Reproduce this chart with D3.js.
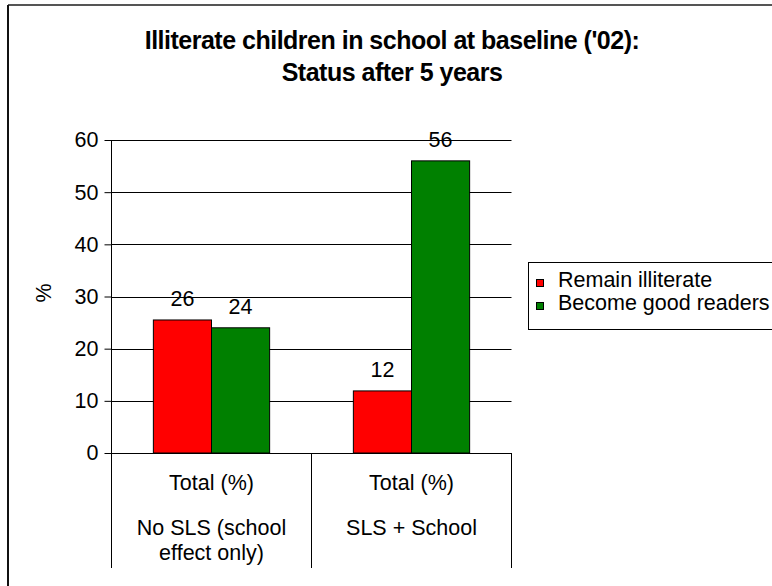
<!DOCTYPE html>
<html>
<head>
<meta charset="utf-8">
<script src="https://cdn.jsdelivr.net/npm/d3@7"></script>
<style>
  html, body { margin: 0; padding: 0; background: #fff; }
  svg { display: block; font-family: "Liberation Sans", Arial, sans-serif; }
</style>
</head>
<body>
<svg id="chart" width="772" height="586"></svg>
<script>
// Illiterate children in school at baseline: status after 5 years
const categories = ["No SLS (school effect only)", "SLS + School"];
const categoryLines = [["Total (%)", "No SLS (school", "effect only)"], ["Total (%)", "SLS + School"]];
const seriesNames = ["Remain illiterate", "Become good readers"];
const remainIlliterate = [25.5, 11.9];
const becomeGoodReaders = [24, 56];
const yTicks = [0, 10, 20, 30, 40, 50, 60];
const seriesColors = ["#FF0000", "#008000"];

const svg = d3.select("#chart");
const W = 772, H = 586;
const FS = 21.5;

// outer frame (top and left edges)
svg.append("line").attr("x1", 8).attr("x2", W).attr("y1", 5).attr("y2", 5)
  .attr("stroke", "#555").attr("stroke-width", 2);
svg.append("line").attr("x1", 8).attr("x2", 8).attr("y1", 5).attr("y2", H)
  .attr("stroke", "#111").attr("stroke-width", 2);

// title
const title = svg.append("text").attr("text-anchor", "middle")
  .attr("font-weight", "bold").attr("font-size", 25).attr("fill", "#000")
  .attr("letter-spacing", -0.5);
title.append("tspan").attr("x", 392).attr("y", 49).text("Illiterate children in school at baseline ('02):");
title.append("tspan").attr("x", 392).attr("y", 81).text("Status after 5 years");

const plot = { left: 111.5, right: 511.5, top: 140, bottom: 453, labelBottom: 568 };

const x0 = d3.scaleBand().domain(categories).range([plot.left, plot.right]).padding(0);
const x1 = d3.scaleBand().domain(seriesNames).range([0, x0.bandwidth()])
  .paddingInner(0).paddingOuter(0.72);
const y = d3.scaleLinear().domain([0, 60]).range([plot.bottom, plot.top]);

// gridlines
svg.append("g").selectAll("line").data(yTicks.filter(d => d > 0)).join("line")
  .attr("x1", plot.left).attr("x2", plot.right)
  .attr("y1", d => Math.round(y(d)) + 0.5).attr("y2", d => Math.round(y(d)) + 0.5)
  .attr("stroke", "#000").attr("stroke-width", 1);

// y axis
const yAxis = d3.axisLeft(y).tickValues(yTicks).tickSize(7).tickPadding(6).tickFormat(d3.format("d"));
const gy = svg.append("g").attr("transform", `translate(${plot.left},0)`).call(yAxis);
gy.select(".domain").remove();
gy.selectAll(".tick line").attr("stroke", "#000");
gy.selectAll(".tick text").attr("font-size", FS).attr("fill", "#000")
  .attr("font-family", "Liberation Sans, Arial, sans-serif");

// axis line and category dividers running through the label area
svg.append("line").attr("x1", plot.left).attr("x2", plot.left)
  .attr("y1", plot.top).attr("y2", plot.labelBottom).attr("stroke", "#000");
svg.append("g").selectAll("line").data(categories).join("line")
  .attr("x1", d => x0(d) + x0.bandwidth()).attr("x2", d => x0(d) + x0.bandwidth())
  .attr("y1", plot.bottom).attr("y2", plot.labelBottom).attr("stroke", "#000");
svg.append("line").attr("x1", plot.left).attr("x2", plot.right)
  .attr("y1", plot.bottom + 0.5).attr("y2", plot.bottom + 0.5).attr("stroke", "#000");

// y axis title
svg.append("text").attr("transform", "translate(51,293) rotate(-90)")
  .attr("text-anchor", "middle").attr("font-size", FS).attr("fill", "#000").text("%");

// bars
const rows = categories.map((c, i) => ({
  category: c,
  values: [
    { series: seriesNames[0], value: remainIlliterate[i], color: seriesColors[0] },
    { series: seriesNames[1], value: becomeGoodReaders[i], color: seriesColors[1] }
  ]
}));

const groups = svg.append("g").selectAll("g").data(rows).join("g")
  .attr("transform", d => `translate(${x0(d.category)},0)`);

groups.selectAll("rect").data(d => d.values).join("rect")
  .attr("x", d => x1(d.series))
  .attr("y", d => y(d.value))
  .attr("width", x1.bandwidth())
  .attr("height", d => y(0) - y(d.value))
  .attr("fill", d => d.color)
  .attr("stroke", "#000").attr("stroke-width", 1);

groups.selectAll("text.val").data(d => d.values).join("text").attr("class", "val")
  .attr("x", d => x1(d.series) + x1.bandwidth() / 2)
  .attr("y", d => y(d.value) - 14)
  .attr("text-anchor", "middle").attr("font-size", FS).attr("fill", "#000")
  .text(d => d3.format(".0f")(d.value));

// category labels
const catLabels = svg.append("g").selectAll("text").data(categories).join("text")
  .attr("text-anchor", "middle").attr("font-size", FS).attr("fill", "#000");
catLabels.each(function(d, i) {
  const cx = x0(d) + x0.bandwidth() / 2;
  const ys = [490, 535, 560];
  categoryLines[i].forEach((line, j) => {
    d3.select(this).append("tspan").attr("x", cx).attr("y", ys[j]).text(line);
  });
});

// legend
const lg = svg.append("g").attr("transform", "translate(528,262)");
lg.append("rect").attr("x", 0.5).attr("y", 0.5).attr("width", 260).attr("height", 67)
  .attr("fill", "#fff").attr("stroke", "#000");
seriesNames.forEach((name, i) => {
  lg.append("rect").attr("x", 8.5).attr("y", 17.5 + i * 23).attr("width", 7).attr("height", 7)
    .attr("fill", seriesColors[i]).attr("stroke", "#000");
  lg.append("text").attr("x", 30).attr("y", 25 + i * 23)
    .attr("font-size", FS).attr("fill", "#000").text(name);
});
</script>
</body>
</html>
